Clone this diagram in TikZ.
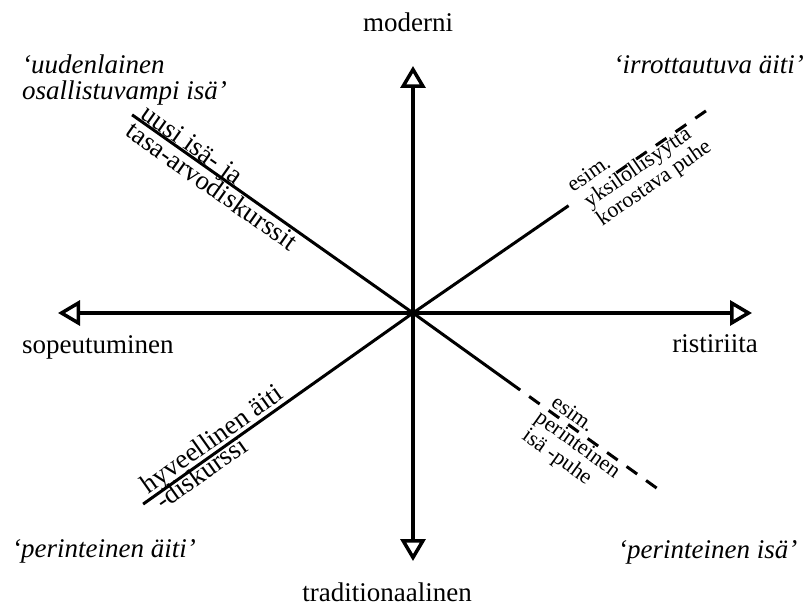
\documentclass[tikz,border=0pt]{standalone}
\usepackage{fontspec}
\setmainfont{Liberation Serif}
\usetikzlibrary{arrows.meta}
\begin{document}
\begin{tikzpicture}[x=1pt,y=1pt,
  tri/.tip={Triangle[open,length=22pt,width=25pt,line width=3.5pt]},
  axis/.style={line width=4pt, tri-tri},
  diag/.style={line width=3pt},
  dashdiag/.style={line width=3pt, dash pattern=on 13pt off 11pt},
  big/.style={font=\fontsize{27}{27}\selectfont, inner sep=0pt},
  quote/.style={font=\fontsize{27}{27}\selectfont\itshape, inner sep=0pt},
  small/.style={font=\fontsize{22}{22}\selectfont, inner sep=0pt},
]
\useasboundingbox (0,0) rectangle (808,606);
\coordinate (O) at (413,293);
\coordinate (N) at (413,540);
\coordinate (S) at (413,45);
\coordinate (W) at (58,293);
\coordinate (E) at (752,293);

% upper left
\begin{scope}[shift={(O)}, rotate=-35.2, transform shape]
  \coordinate (ULe) at (-343.8,0);
  \node[big, anchor=base west] (uusi) at (-336,2) {uusi isä- ja};
  \node[big, anchor=north west] (tasa) at (-339,-2) {tasa-arvodiskurssit};
\end{scope}
\draw[diag] (ULe) -- (O);

% lower left
\begin{scope}[shift={(O)}, rotate=35.3, transform shape]
  \coordinate (LLe) at (-330.7,0);
  \node[big, anchor=base west] (hyv) at (-321,5) {hyveellinen äiti};
  \node[big, anchor=base west] (disk) at (-318,-17) {-diskurssi};
\end{scope}
\draw[diag] (LLe) -- (O);

% upper right
\begin{scope}[shift={(O)}, rotate=34.6, transform shape]
  \coordinate (URs) at (189,0);
  \coordinate (URd) at (247,0);
  \coordinate (URe) at (355.9,0);
  \node[small, anchor=base west] (esim1) at (200,8) {esim.};
  \node[small, anchor=base west] (yks) at (205,-14) {yksilöllisyyttä};
  \node[small, anchor=base west] (kor) at (205,-36) {korostava puhe};
\end{scope}
\draw[diag] (O) -- (URs);
\draw[dashdiag] (URd) -- (URe);

% lower right
\begin{scope}[shift={(O)}, rotate=-35.7, transform shape]
  \coordinate (LRs) at (132,0);
  \coordinate (LRd) at (143,0);
  \coordinate (LRe) at (301.7,0);
  \node[small, anchor=base west] (esim2) at (165,5) {esim.};
  \node[small, anchor=base west] (per) at (161,-17) {perinteinen};
  \node[small, anchor=base west] (puhe) at (161,-39) {isä -puhe};
\end{scope}
\draw[diag] (O) -- (LRs);
\draw[dashdiag] (LRd) -- (LRe);

% axes
\draw[axis] (S) -- (N);
\draw[axis] (W) -- (E);

% axis labels
\node[big, anchor=base] (mod) at (408,574) {moderni};
\node[big, anchor=base] (trad) at (387,5) {traditionaalinen};
\node[big, anchor=base west] (sop) at (22,253) {sopeutuminen};
\node[big, anchor=base east] (ris) at (758,254) {ristiriita};

% quadrant labels
\node[quote, anchor=base west] (ul1) at (22,532) {‘uudenlainen};
\node[quote, anchor=base west] (ul2) at (22,506) {osallistuvampi isä’};
\node[quote, anchor=base east] (ur) at (804,532) {‘irrottautuva äiti’};
\node[quote, anchor=base west] (ll) at (12,49) {‘perinteinen äiti’};
\node[quote, anchor=base west] (lr) at (618,48) {‘perinteinen isä’};
\end{tikzpicture}
\end{document}
